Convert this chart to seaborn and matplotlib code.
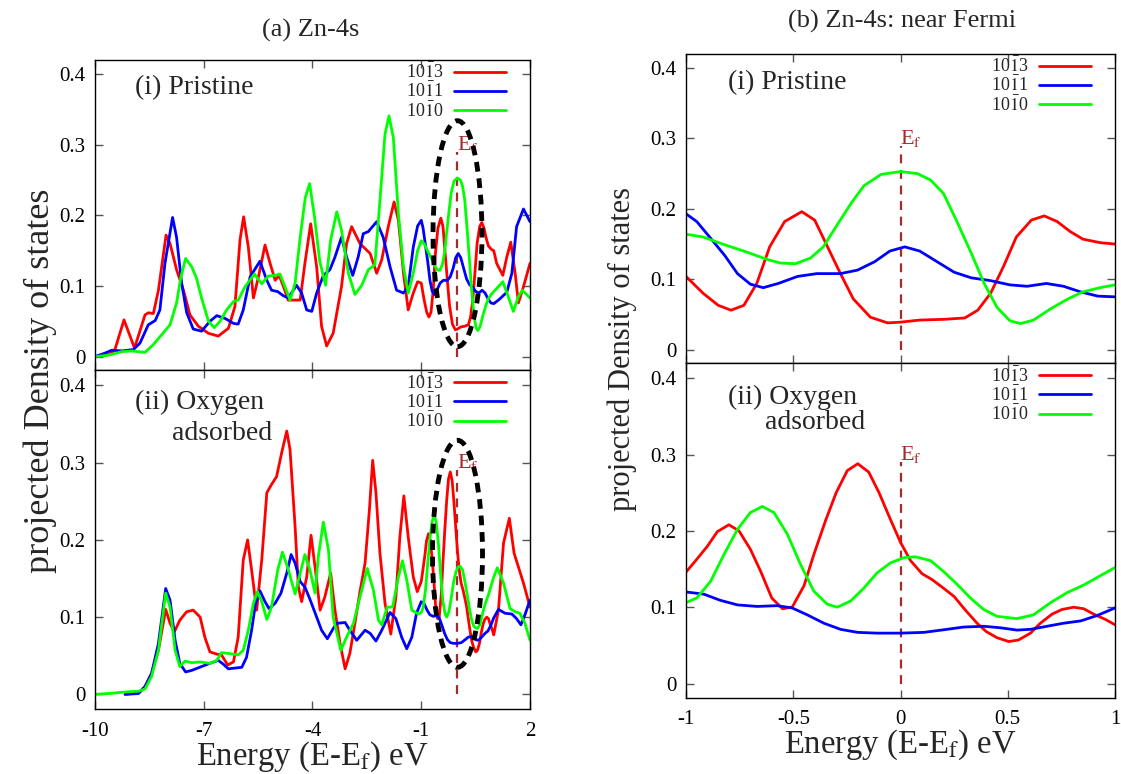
import matplotlib
matplotlib.use("Agg")
import matplotlib.pyplot as plt
from matplotlib.patches import Ellipse
from matplotlib.ticker import FuncFormatter
import seaborn as sns

sns.set_theme(style="ticks")
plt.rcParams["font.family"] = ["Liberation Serif", "DejaVu Serif"]
plt.rcParams["mathtext.fontset"] = "stix"

# ---------------------------------------------------------------------------
# Zn-4s projected DOS, pristine surface
# ---------------------------------------------------------------------------
pr_1013_e = [-10, -9.59, -9.45, -9.2, -8.91, -8.62, -8.53, -8.39, -8.25, -8.04, -7.93, -7.75,
             -7.56, -7.38, -7.15, -6.87, -6.6, -6.32, -6.14, -6.0, -5.9, -5.77, -5.63, -5.49,
             -5.31, -5.17, -5.03, -4.92, -4.8, -4.67, -4.34, -4.21, -4.05, -3.885, -3.75,
             -3.61, -3.43, -3.2, -3.06, -2.92, -2.69, -2.55, -2.41, -2.23, -2.09, -1.91,
             -1.75, -1.63, -1.49, -1.36, -1.22, -1.1,
             -1.0, -0.92, -0.85, -0.79, -0.73, -0.67, -0.61, -0.54, -0.46, -0.40, -0.34,
             -0.28, -0.22, -0.14, -0.06, 0.0, 0.09, 0.20, 0.30, 0.36, 0.42, 0.48, 0.54, 0.61,
             0.67, 0.73, 0.79, 0.85, 0.93, 1.0,
             1.08, 1.25, 1.36, 1.47, 1.59, 1.68, 1.82, 2.0]
pr_1013_dos = [0, 0.003, 0.01, 0.052, 0.012, 0.059, 0.062, 0.061, 0.094, 0.172, 0.160, 0.123,
               0.094, 0.059, 0.043, 0.033, 0.029, 0.040, 0.071, 0.165, 0.198, 0.155, 0.083,
               0.113, 0.158, 0.132, 0.108, 0.115, 0.099, 0.080, 0.080, 0.132, 0.188, 0.127,
               0.043, 0.015, 0.033, 0.099, 0.160, 0.184, 0.160, 0.153, 0.146, 0.118, 0.137,
               0.184, 0.219, 0.193, 0.118, 0.066, 0.090, 0.106,
               0.104, 0.080, 0.063, 0.056, 0.063, 0.094, 0.146, 0.182, 0.196, 0.184, 0.146,
               0.108, 0.072, 0.046, 0.038, 0.039, 0.042, 0.043, 0.045, 0.056, 0.080, 0.118,
               0.160, 0.184, 0.190, 0.182, 0.168, 0.157, 0.152, 0.150,
               0.132, 0.115, 0.141, 0.162, 0.118, 0.076, 0.099, 0.132]

pr_1011_e = [-10, -9.72, -9.54, -9.26, -8.94, -8.76, -8.53, -8.34, -8.21, -8.07, -7.86, -7.75,
             -7.61, -7.47, -7.29, -7.06, -6.83, -6.64, -6.41, -6.18, -6.05, -5.91, -5.72,
             -5.45, -5.26, -5.13, -4.96, -4.8, -4.67, -4.44, -4.3, -4.16, -4.02, -3.885, -3.7,
             -3.52, -3.38, -3.2, -3.06, -2.89, -2.74, -2.6, -2.46, -2.23, -2.05, -1.86, -1.68,
             -1.49, -1.36, -1.22, -1.1,
             -1.0, -0.95, -0.89, -0.82, -0.76, -0.70, -0.64, -0.57, -0.48, -0.39, -0.28,
             -0.20, -0.12, -0.05, 0.02, 0.09, 0.17, 0.25, 0.33, 0.42, 0.51, 0.59, 0.68, 0.76,
             0.84, 0.92, 1.0,
             1.13, 1.36, 1.5, 1.63, 1.82, 2.0]
pr_1011_dos = [0, 0.005, 0.009, 0.008, 0.010, 0.019, 0.045, 0.051, 0.066, 0.132, 0.197, 0.169,
               0.104, 0.062, 0.039, 0.036, 0.050, 0.058, 0.054, 0.047, 0.046, 0.066, 0.113,
               0.135, 0.108, 0.094, 0.092, 0.086, 0.083, 0.101, 0.090, 0.066, 0.064, 0.090,
               0.115, 0.123, 0.141, 0.169, 0.141, 0.115, 0.141, 0.174, 0.177, 0.191, 0.169,
               0.127, 0.094, 0.090, 0.099, 0.155, 0.185,
               0.193, 0.182, 0.160, 0.134, 0.108, 0.093, 0.088, 0.094, 0.104, 0.108, 0.108,
               0.113, 0.125, 0.140, 0.146, 0.140, 0.125, 0.110, 0.102, 0.098, 0.092, 0.090,
               0.094, 0.090, 0.082, 0.076, 0.075,
               0.080, 0.091, 0.118, 0.184, 0.209, 0.191]

pr_1010_e = [-10, -9.63, -9.26, -8.99, -8.62, -8.39, -8.16, -7.93, -7.75, -7.63, -7.5, -7.33,
             -7.2, -7.06, -6.87, -6.71, -6.55, -6.37, -6.18, -6.05, -5.86, -5.6, -5.4, -5.22,
             -5.03, -4.9, -4.76, -4.62, -4.48, -4.34, -4.2, -4.08, -3.95, -3.8, -3.64, -3.5,
             -3.33, -3.2, -3.01, -2.83, -2.64, -2.46, -2.28, -2.14, -2.0, -1.89, -1.77, -1.63,
             -1.49, -1.36, -1.22, -1.1,
             -1.0, -0.92, -0.82, -0.73, -0.62, -0.56, -0.49, -0.42, -0.36, -0.30, -0.23,
             -0.17, -0.09, 0.0, 0.08, 0.14, 0.20, 0.26, 0.33, 0.39, 0.45, 0.51, 0.56, 0.62,
             0.70, 0.78, 0.85, 0.93, 1.0,
             1.25, 1.4, 1.54, 1.68, 1.79, 2.0]
pr_1010_dos = [0, 0.002, 0.007, 0.008, 0.006, 0.017, 0.031, 0.045, 0.076, 0.113, 0.139, 0.127,
               0.111, 0.083, 0.050, 0.041, 0.050, 0.066, 0.078, 0.080, 0.099, 0.117, 0.103,
               0.114, 0.115, 0.117, 0.099, 0.080, 0.104, 0.169, 0.225, 0.245, 0.200, 0.135,
               0.101, 0.165, 0.205, 0.179, 0.118, 0.088, 0.101, 0.123, 0.130, 0.221, 0.315,
               0.341, 0.310, 0.202, 0.127, 0.090, 0.118, 0.150,
               0.164, 0.160, 0.149, 0.140, 0.128, 0.123, 0.122, 0.130, 0.146, 0.175, 0.208,
               0.233, 0.249, 0.253, 0.250, 0.241, 0.222, 0.184, 0.137, 0.094, 0.060, 0.041,
               0.037, 0.042, 0.058, 0.072, 0.082, 0.088, 0.092,
               0.106, 0.085, 0.064, 0.085, 0.094, 0.083]

# ---------------------------------------------------------------------------
# Zn-4s projected DOS, oxygen adsorbed surface
# ---------------------------------------------------------------------------
ox_1013_e = [-9.17, -8.8, -8.62, -8.44, -8.25, -8.05, -7.93, -7.81, -7.66, -7.47, -7.29, -7.1,
             -6.97, -6.83, -6.64, -6.51, -6.34, -6.18, -6.05, -5.91, -5.79, -5.68, -5.54, -5.4,
             -5.26, -5.14, -4.99, -4.85, -4.71, -4.62, -4.48, -4.39, -4.3, -4.16, -4.04,
             -3.93, -3.79, -3.66, -3.5, -3.38, -3.24, -3.1, -2.97, -2.83, -2.69, -2.55, -2.43,
             -2.34, -2.25, -2.14, -2.0, -1.84, -1.7, -1.59, -1.48, -1.36, -1.22, -1.11,
             -1.0, -0.955, -0.90, -0.854, -0.80, -0.753, -0.70, -0.652, -0.60, -0.55, -0.505,
             -0.45, -0.404, -0.35, -0.30, -0.248, -0.199, -0.148, -0.10, -0.047, 0.0, 0.047,
             0.10, 0.148, 0.20, 0.25, 0.30, 0.357, 0.40, 0.45, 0.505, 0.55, 0.606, 0.652,
             0.707, 0.753, 0.807, 0.854, 0.90, 0.955, 1.0,
             1.13, 1.27, 1.43, 1.56, 1.68, 1.82, 2.0]
ox_1013_dos = [0.0, 0.002, 0.010, 0.027, 0.057, 0.110, 0.092, 0.081, 0.096, 0.107, 0.109,
               0.100, 0.074, 0.055, 0.052, 0.051, 0.038, 0.042, 0.074, 0.174, 0.200, 0.161,
               0.109, 0.174, 0.261, 0.271, 0.282, 0.313, 0.341, 0.317, 0.217, 0.139, 0.120,
               0.152, 0.206, 0.165, 0.109, 0.126, 0.157, 0.109, 0.066, 0.033, 0.053, 0.092,
               0.133, 0.170, 0.239, 0.303, 0.261, 0.183, 0.118, 0.078, 0.126, 0.204, 0.257,
               0.204, 0.152, 0.133,
               0.146, 0.161, 0.180, 0.199, 0.208, 0.200, 0.176, 0.147, 0.112, 0.098, 0.100,
               0.128, 0.169, 0.213, 0.250, 0.279, 0.288, 0.277, 0.250, 0.215, 0.185, 0.161,
               0.144, 0.136, 0.125, 0.114, 0.097, 0.079, 0.068, 0.060, 0.055, 0.057, 0.066,
               0.079, 0.091, 0.097, 0.100, 0.098, 0.091, 0.084, 0.077,
               0.109, 0.196, 0.228, 0.183, 0.165, 0.144, 0.113]

ox_1011_e = [-9.17, -8.8, -8.62, -8.44, -8.25, -8.05, -7.93, -7.79, -7.66, -7.5, -7.33, -7.06,
             -6.78, -6.6, -6.46, -6.32, -6.14, -5.95, -5.82, -5.68, -5.57, -5.45, -5.31, -5.2,
             -5.03, -4.87, -4.71, -4.59, -4.48, -4.34, -4.21, -4.07, -3.885, -3.75, -3.59,
             -3.43, -3.33, -3.1, -2.97, -2.78, -2.55, -2.41, -2.25, -2.09, -1.86, -1.7, -1.54,
             -1.4, -1.26, -1.13,
             -1.0, -0.916, -0.84, -0.76, -0.668, -0.575, -0.505, -0.435, -0.357, -0.28, -0.20,
             -0.109, 0.0, 0.109, 0.217, 0.295, 0.388, 0.466, 0.543, 0.606, 0.683, 0.76, 0.84,
             0.916, 1.0,
             1.13, 1.31, 1.5, 1.63, 1.75, 1.86, 2.0]
ox_1011_dos = [0.0, 0.001, 0.010, 0.027, 0.066, 0.137, 0.122, 0.070, 0.040, 0.029, 0.031,
               0.036, 0.041, 0.044, 0.039, 0.033, 0.034, 0.035, 0.048, 0.083, 0.118, 0.134,
               0.120, 0.111, 0.118, 0.131, 0.157, 0.181, 0.170, 0.146, 0.139, 0.123, 0.100,
               0.083, 0.072, 0.085, 0.092, 0.093, 0.083, 0.070, 0.083, 0.079, 0.069, 0.083,
               0.106, 0.098, 0.074, 0.059, 0.074, 0.105,
               0.120, 0.117, 0.109, 0.103, 0.101, 0.102, 0.099, 0.090, 0.079, 0.071, 0.067,
               0.066, 0.066, 0.067, 0.071, 0.074, 0.075, 0.073, 0.070, 0.071, 0.075, 0.079,
               0.082, 0.089, 0.099,
               0.110, 0.105, 0.104, 0.098, 0.090, 0.103, 0.122]

ox_1010_e = [-10, -9.63, -9.17, -8.8, -8.62, -8.44, -8.25, -8.05, -7.93, -7.79, -7.66, -7.52,
             -7.33, -7.1, -6.83, -6.64, -6.51, -6.32, -6.05, -5.91, -5.77, -5.63, -5.52, -5.4,
             -5.26, -5.13, -4.96, -4.83, -4.69, -4.48, -4.34, -4.21, -4.07, -3.93, -3.84,
             -3.7, -3.56, -3.43, -3.22, -3.06, -2.87, -2.69, -2.49, -2.32, -2.18, -2.09,
             -1.94, -1.79, -1.63, -1.52, -1.4, -1.26, -1.08,
             -1.0, -0.95, -0.885, -0.823, -0.76, -0.70, -0.644, -0.59, -0.528, -0.466, -0.404,
             -0.342, -0.295, -0.233, -0.171, -0.109, -0.047, 0.016, 0.07, 0.14, 0.20, 0.264,
             0.326, 0.388, 0.45, 0.543, 0.62, 0.70, 0.776, 0.854, 0.93, 1.0,
             1.1, 1.27, 1.45, 1.59, 1.72, 1.86, 2.0]
ox_1010_dos = [0, 0.001, 0.003, 0.004, 0.007, 0.023, 0.057, 0.131, 0.113, 0.057, 0.036, 0.043,
               0.041, 0.042, 0.040, 0.044, 0.054, 0.053, 0.051, 0.057, 0.083, 0.118, 0.133,
               0.120, 0.097, 0.113, 0.161, 0.184, 0.165, 0.130, 0.157, 0.181, 0.161, 0.131,
               0.178, 0.223, 0.187, 0.100, 0.057, 0.074, 0.092, 0.126, 0.163, 0.135, 0.096,
               0.090, 0.113, 0.113, 0.152, 0.173, 0.148, 0.109, 0.104,
               0.106, 0.112, 0.134, 0.169, 0.202, 0.224, 0.232, 0.224, 0.196, 0.156, 0.121,
               0.104, 0.100, 0.108, 0.125, 0.145, 0.158, 0.165, 0.166, 0.161, 0.147, 0.130,
               0.112, 0.097, 0.088, 0.085, 0.090, 0.106, 0.119, 0.129, 0.141, 0.152,
               0.164, 0.144, 0.111, 0.107, 0.105, 0.092, 0.070]

facet_labels = [r"10$\bar{1}$3", r"10$\bar{1}$1", r"10$\bar{1}$0"]
facet_colors = ["#ff0000", "#0000ff", "#00ff00"]

pristine = [(pr_1013_e, pr_1013_dos), (pr_1011_e, pr_1011_dos), (pr_1010_e, pr_1010_dos)]
oxygen = [(ox_1013_e, ox_1013_dos), (ox_1011_e, ox_1011_dos), (ox_1010_e, ox_1010_dos)]

fermi_level = 0.0
fermi_marker_top = 0.29
fermi_color = "#a52a2a"

wide_xticks = [-10, -7, -4, -1, 2]
near_xticks = [-1, -0.5, 0, 0.5, 1]
yticks = [0, 0.1, 0.2, 0.3, 0.4]

fig = plt.figure(figsize=(11.21, 7.74), dpi=100)
W, H = 1121, 774


def axes_px(left, top, right, bottom):
    return fig.add_axes([left / W, 1 - bottom / H, (right - left) / W, (bottom - top) / H])


ax_a1 = axes_px(95, 60, 530, 370)
ax_a2 = axes_px(95, 370, 530, 709)
ax_b1 = axes_px(686, 54, 1115, 363)
ax_b2 = axes_px(686, 363, 1115, 698)

ytick_fmt = FuncFormatter(lambda v, _: "0" if abs(v) < 1e-9 else f"{v:.1f}")
xtick_fmt = FuncFormatter(lambda v, _: f"{v:g}")


def draw_panel(ax, curves, xlim, xticks, show_xlabels, legend_anchor):
    for (e, dos), lab, col in zip(curves, facet_labels, facet_colors):
        sns.lineplot(x=e, y=dos, ax=ax, color=col, lw=2.0, label=lab,
                     solid_joinstyle="round", solid_capstyle="round")
    ax.set_xlim(*xlim)
    ax.set_ylim(-0.019, 0.42)
    ax.set_xticks(xticks)
    ax.set_yticks(yticks)
    ax.yaxis.set_major_formatter(ytick_fmt)
    ax.xaxis.set_major_formatter(xtick_fmt)
    ax.tick_params(direction="in", top=True, right=True, length=6, width=1.0,
                   color="#555555", labelsize=15, pad=7, labelcolor="black")
    ax.tick_params(axis="x", labelbottom=show_xlabels, pad=9)
    for lbl in ax.get_xticklabels() + ax.get_yticklabels():
        lbl.set_fontfamily("Liberation Serif")
    for sp in ax.spines.values():
        sp.set_color("black")
        sp.set_linewidth(1.0)
    ax.set_xlabel("")
    ax.set_ylabel("")
    ax.vlines(fermi_level, 0, fermi_marker_top, colors=fermi_color, lw=1.6,
              linestyles=(0, (4, 3)), zorder=1)
    ax.text(fermi_level, 0.30, r"E$_\mathrm{f}$", color=fermi_color, fontsize=16,
            ha="left", va="center")
    ax.legend(loc="upper right", bbox_to_anchor=legend_anchor, frameon=False,
              markerfirst=False, fontsize=13, handlelength=2.9, handletextpad=0.6,
              labelspacing=0.0, borderpad=0, borderaxespad=0)


draw_panel(ax_a1, pristine, (-10, 2), wide_xticks, False, (0.945, 0.99))
draw_panel(ax_a2, oxygen, (-10, 2), wide_xticks, True, (0.945, 0.99))
draw_panel(ax_b1, pristine, (-1, 1), near_xticks, False, (0.944, 0.99))
draw_panel(ax_b2, oxygen, (-1, 1), near_xticks, True, (0.944, 0.99))

# Highlight the states around the Fermi level in the wide panels
for ax, cy, h, w in [(ax_a1, 0.174, 0.32, 1.35), (ax_a2, 0.182, 0.294, 1.38)]:
    ax.add_patch(Ellipse((fermi_level, cy), w, h, fill=False, ec="black", lw=3.5,
                         ls=(0, (2, 1.4)), zorder=5))

# Panel captions
ax_a1.text(0.092, 0.91, "(i) Pristine", transform=ax_a1.transAxes, fontsize=20,
           ha="left", va="center")
ax_b1.text(0.098, 0.906, "(i) Pristine", transform=ax_b1.transAxes, fontsize=20,
           ha="left", va="center")
ax_a2.text(0.092, 0.903, "(ii) Oxygen", transform=ax_a2.transAxes, fontsize=20,
           ha="left", va="center")
ax_a2.text(0.177, 0.814, "adsorbed", transform=ax_a2.transAxes, fontsize=20,
           ha="left", va="center")
ax_b2.text(0.098, 0.898, "(ii) Oxygen", transform=ax_b2.transAxes, fontsize=20,
           ha="left", va="center")
ax_b2.text(0.184, 0.821, "adsorbed", transform=ax_b2.transAxes, fontsize=20,
           ha="left", va="center")

# Column titles and axis labels
fig.text(311 / W, 1 - 30 / H, "(a) Zn-4s", fontsize=19, ha="center", va="center")
fig.text(902 / W, 1 - 21 / H, "(b) Zn-4s: near Fermi", fontsize=19, ha="center", va="center")
fig.text(40 / W, 1 - 381 / H, "projected Density of states", rotation=90, fontsize=26,
         ha="center", va="center")
fig.text(622 / W, 1 - 349 / H, "projected Density of states", rotation=90, fontsize=22,
         ha="center", va="center")
fig.text(312 / W, 1 - 757 / H, r"Energy (E-E$_\mathrm{f}$) eV", fontsize=23.5,
         ha="center", va="center")
fig.text(900 / W, 1 - 745 / H, r"Energy (E-E$_\mathrm{f}$) eV", fontsize=23.5,
         ha="center", va="center")

fig.savefig("out.png", dpi=100)
